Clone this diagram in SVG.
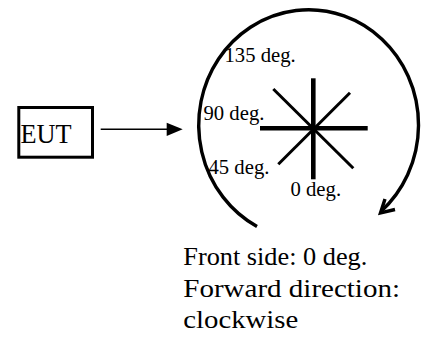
<svg xmlns="http://www.w3.org/2000/svg" width="424" height="338" viewBox="0 0 424 338">
<style>
text{font-family:"Liberation Serif","Times New Roman",serif;fill:#000}
.lbl{font-size:20.7px}
.big{font-size:26.3px}
.cap{font-size:25.5px}
.ln{stroke:#000;fill:none}
</style>
<rect width="424" height="338" fill="#fff"/>
<g id="eut">
<rect x="18.8" y="107.5" width="73.7" height="49.7" fill="none" stroke="#000" stroke-width="3"/>
<text class="big" x="20.5" y="142.7">EUT</text>
</g>
<g id="connectors">
<line class="ln" x1="100.7" y1="129.3" x2="168" y2="129.3" stroke-width="1.5"/>
<polygon points="166.7,122.7 182.7,129.3 166.7,136" fill="#000"/>
<path class="ln" d="M257,226.5 A109.9 115.1 0 1 1 381,211.5" stroke-width="3.4"/>
<polyline class="ln" points="385,199 380.5,213 395,209.5" stroke-width="3.4" stroke-linejoin="miter"/>
</g>
<g id="star">
<line class="ln" x1="313.3" y1="78.3" x2="313.3" y2="179.3" stroke-width="4.6"/>
<line class="ln" x1="260" y1="128.3" x2="367.7" y2="128.3" stroke-width="4.6"/>
<line class="ln" x1="273.3" y1="89" x2="353.3" y2="168.3" stroke-width="3"/>
<line class="ln" x1="350" y1="92.7" x2="278.3" y2="164.3" stroke-width="3"/>
</g>
<g id="labels">
<text class="lbl" x="224.5" y="61.5">135 deg.</text>
<text class="lbl" x="203.5" y="120.3">90 deg.</text>
<text class="lbl" x="208.5" y="173.5">45 deg.</text>
<text class="lbl" x="290.5" y="195.5">0 deg.</text>
</g>
<g id="caption">
<text class="cap" x="183.3" y="265" textLength="184" lengthAdjust="spacingAndGlyphs">Front side: 0 deg.</text>
<text class="cap" x="183.3" y="296.7" textLength="216.7" lengthAdjust="spacingAndGlyphs">Forward direction:</text>
<text class="cap" x="183.3" y="328.3" textLength="115" lengthAdjust="spacingAndGlyphs">clockwise</text>
</g>
</svg>
